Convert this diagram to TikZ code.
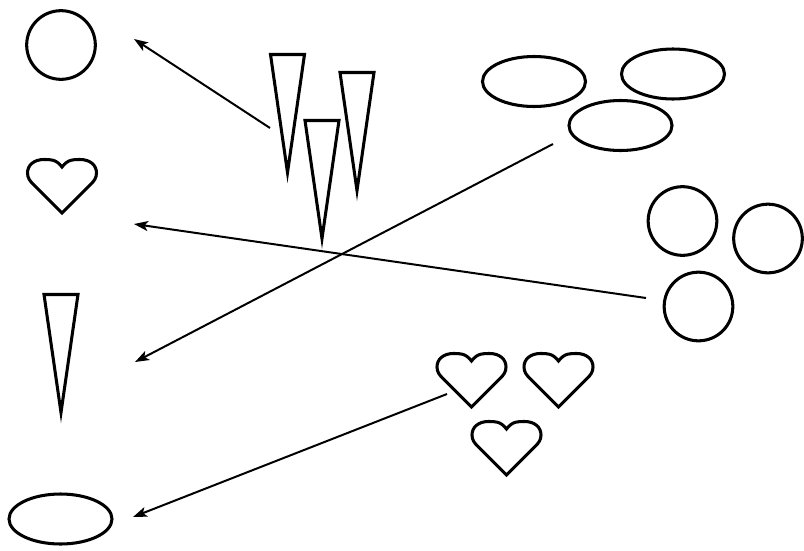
\documentclass[tikz,border=0pt]{standalone}
\usepackage{tikz}
\usetikzlibrary{arrows.meta,shapes.geometric}
\tikzset{
  outline/.style={draw=black, line width=2.6pt, line join=miter},
  ring/.style={circle, outline, minimum size=2.06cm, inner sep=0pt},
  oval/.style={ellipse, outline, minimum width=3.09cm, minimum height=1.5cm, inner sep=0pt},
  flow/.style={-{Stealth[length=4.2mm,width=3mm,inset=1mm]}, line width=1.7pt, draw=black},
  cone/.pic={
    \draw[outline] (-17,0) -- (17,0) -- (0,118) -- cycle;
    \coordinate (-c) at (0,60);
  },
  heart/.pic={
    \draw[outline] (0,9) .. controls (-6,1) and (-12,1.5) .. (-18,1.5)
      .. controls (-28,1.5) and (-34.5,7) .. (-34.5,15)
      .. controls (-34.5,20) and (-32,23) .. (-29,26) -- (0,55) -- (29,26)
      .. controls (32,23) and (34.5,20) .. (34.5,15)
      .. controls (34.5,7) and (28,1.5) .. (18,1.5)
      .. controls (12,1.5) and (6,1) .. (0,9) -- cycle;
    \coordinate (-c) at (0,28);
  }
}
\begin{document}
\begin{tikzpicture}[x=0.03cm,y=-0.03cm]
\useasboundingbox (0,0) rectangle (804,550);
% left column
\node[ring] (circL) at (61,45) {};
\pic (heartL) at (62,158) {heart};
\pic (coneL) at (61,294.5) {cone};
\node[oval] (ovalL) at (60.5,519) {};
% groups
\pic (cone1) at (287.5,54.5) {cone};
\pic (cone2) at (357,72.5) {cone};
\pic (cone3) at (322,120.5) {cone};
\node[oval] (oval1) at (534,81.5) {};
\node[oval] (oval2) at (673,74) {};
\node[oval] (oval3) at (620.5,125.5) {};
\node[ring] (circ1) at (682.5,221) {};
\node[ring] (circ2) at (768,238.5) {};
\node[ring] (circ3) at (698.5,306.5) {};
\pic (heart1) at (471.5,352) {heart};
\pic (heart2) at (558.5,352) {heart};
\pic (heart3) at (506.5,420) {heart};
% arrow ends
\coordinate (fromCones) at (270,128);
\coordinate (toCirc) at (134,39);
\coordinate (fromCircs) at (646,298);
\coordinate (toHeart) at (134,224);
\coordinate (fromOvals) at (553,144);
\coordinate (toCone) at (135,362);
\coordinate (fromHearts) at (447,394);
\coordinate (toOval) at (133,517);
\draw[flow] (fromCones) -- (toCirc);
\draw[flow] (fromCircs) -- (toHeart);
\draw[flow] (fromOvals) -- (toCone);
\draw[flow] (fromHearts) -- (toOval);
\end{tikzpicture}
\end{document}
